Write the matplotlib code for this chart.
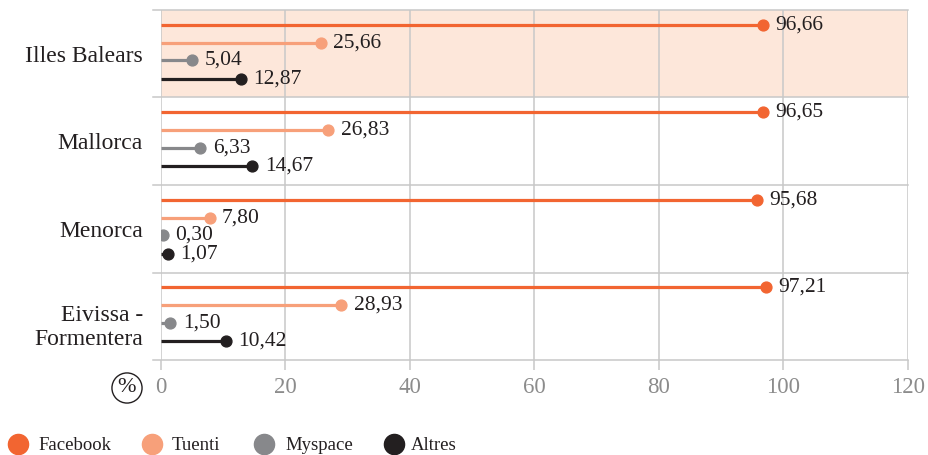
import matplotlib
matplotlib.use("Agg")
import matplotlib.pyplot as plt
from matplotlib.lines import Line2D

categories = ["Illes Balears", "Mallorca", "Menorca", "Eivissa -\nFormentera"]
series_names = ["Facebook", "Tuenti", "Myspace", "Altres"]
facebook = [96.66, 96.65, 95.68, 97.21]
tuenti = [25.66, 26.83, 7.80, 28.93]
myspace = [5.04, 6.33, 0.30, 1.50]
altres = [12.87, 14.67, 1.07, 10.42]
x_ticks = [0, 20, 40, 60, 80, 100, 120]

series_values = [facebook, tuenti, myspace, altres]
colors = ["#F26531", "#F7A07A", "#87888B", "#231F20"]
offsets = [0.17, 0.372, 0.572, 0.785]
label_pos = [0.5, 1.5, 2.5, 3.58]

FONT = "Liberation Serif"
plt.rcParams["font.family"] = [FONT, "DejaVu Serif"]
TXT = "#231F20"
GRID = "#C8C8C8"

W, H = 929, 455
fig = plt.figure(figsize=(W / 100, H / 100), dpi=100)
ax = fig.add_axes([161 / W, 1 - 360 / H, (908 - 161) / W, 350 / H])
ax.set_xlim(0, 120)
ax.set_ylim(4, 0)

ax.axhspan(0, 1, color="#FDE7DA", zorder=0, lw=0)

for s, (vals, col, off) in enumerate(zip(series_values, colors, offsets)):
    for i, v in enumerate(vals):
        y = i + off
        ax.plot([0, v], [y, y], color=col, lw=2.3, solid_capstyle="butt", zorder=3)
        ax.plot([v], [y], marker="o", ms=7.8, color=col, zorder=4)
        ax.annotate(f"{v:.2f}".replace(".", ","), (v, y), xytext=(9, 0),
                    textcoords="offset points", ha="left", va="center",
                    fontsize=15.5, color=TXT, zorder=5)

# separators
for yy in [0, 1, 2, 3, 4]:
    ax.axhline(yy, xmin=-8 / 747, xmax=1, color=GRID, lw=1.1, clip_on=False, zorder=1)

ax.set_axisbelow(True)
ax.grid(axis="x", color=GRID, lw=1.1)
ax.set_xticks(x_ticks)
ax.set_xticklabels([str(t) for t in x_ticks])
ax.tick_params(axis="x", length=7.5, width=1.1, color=GRID, labelcolor="#8C8C8C",
               labelsize=16.5, pad=5)
ax.set_yticks(label_pos)
ax.set_yticklabels(categories, fontsize=17, color=TXT, linespacing=1.2)
ax.tick_params(axis="y", length=0, pad=13)
for lab in ax.get_yticklabels():
    lab.set_ha("right")
for sp in ax.spines.values():
    sp.set_visible(False)

# percent symbol in circle
fig.text(127 / W, 1 - 388 / H, "%", ha="center", va="center", fontsize=16, color=TXT,
         bbox=dict(boxstyle="circle,pad=0.25", fc="white", ec=TXT, lw=1.0))

# legend (manual layout)
leg_marker_x = [18, 152, 264, 394]
leg_text_x = [38, 172, 285, 411]
leg_y = 1 - 444 / H
for name, col, mx, tx in zip(series_names, colors, leg_marker_x, leg_text_x):
    fig.add_artist(Line2D([mx / W], [leg_y], marker="o", ls="none", ms=14.5, color=col,
                          transform=fig.transFigure))
    fig.text(tx / W, 1 - 450 / H, name, ha="left", va="baseline", fontsize=13.5, color=TXT)

fig.savefig("out.png", dpi=100)
